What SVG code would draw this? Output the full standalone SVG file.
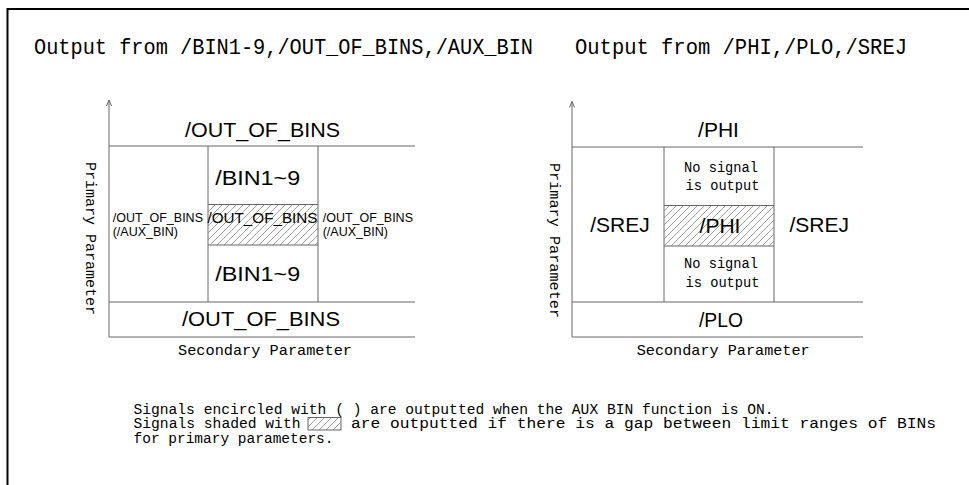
<svg xmlns="http://www.w3.org/2000/svg" width="969" height="485" viewBox="0 0 969 485">
<defs>
<pattern id="hatch" patternUnits="userSpaceOnUse" width="7" height="7">
<path d="M-1,8 L8,-1 M-1,1 L1,-1 M6,8 L8,6" stroke="#777" stroke-width="0.7"/>
</pattern>
</defs>
<style>
.ln{stroke:#666;stroke-width:1;fill:none}
.ar{stroke:#666;stroke-width:1;fill:none}
.big{font-family:"Liberation Sans",Arial,sans-serif;font-size:21px;fill:#000;text-anchor:middle}
.sm{font-family:"Liberation Sans",Arial,sans-serif;font-size:12.5px;fill:#000}
.mono{font-family:"Liberation Mono","DejaVu Sans Mono",monospace;fill:#000}
.title{font-size:22px}
.ax{font-size:15px}
.note{font-size:14px}
.ns{font-size:14px;text-anchor:middle}
</style>
<rect width="969" height="485" fill="#fff"/>
<path d="M7.5,485 V9 H969" stroke="#000" stroke-width="2" fill="none"/>

<g id="titles">
<text class="mono title" x="34" y="54" textLength="499" lengthAdjust="spacingAndGlyphs">Output from /BIN1-9,/OUT_OF_BINS,/AUX_BIN</text>
<text class="mono title" x="575" y="54" textLength="332" lengthAdjust="spacingAndGlyphs">Output from /PHI,/PLO,/SREJ</text>
</g>

<g id="connectors">
<path class="ln" d="M109,100 V337 H415 M109,146 H415 M109,302 H415 M208,146 V302 M318,146 V302 M208,204.5 H318 M208,245 H318"/>
<path class="ar" d="M106.5,106 L109,100 L111.5,106"/>
<path class="ln" d="M572,101.5 V337 H863 M572,147 H863 M572,302 H863 M664,147 V302 M774,147 V302 M664,205.5 H774 M664,246 H774"/>
<path class="ar" d="M569.5,107.5 L572,101.5 L574.5,107.5"/>
</g>

<g id="left-chart">
<rect x="208" y="204.5" width="110" height="40.5" fill="url(#hatch)"/>
<text class="big" x="262.5" y="137" textLength="155" lengthAdjust="spacingAndGlyphs">/OUT_OF_BINS</text>
<text class="big" x="257.7" y="184.5" textLength="85" lengthAdjust="spacingAndGlyphs">/BIN1~9</text>
<text class="big" x="262.5" y="223.3" style="font-size:14px" textLength="110" lengthAdjust="spacingAndGlyphs">/OUT_OF_BINS</text>
<text class="big" x="257.7" y="281" textLength="85" lengthAdjust="spacingAndGlyphs">/BIN1~9</text>
<text class="big" x="261" y="326" textLength="158" lengthAdjust="spacingAndGlyphs">/OUT_OF_BINS</text>
<text class="sm" x="112.7" y="222">/OUT_OF_BINS</text>
<text class="sm" x="112.7" y="235.5">(/AUX_BIN)</text>
<text class="sm" x="322.7" y="222">/OUT_OF_BINS</text>
<text class="sm" x="322.7" y="235.5">(/AUX_BIN)</text>
<text class="mono ax" transform="translate(86,162) rotate(90)" textLength="153" lengthAdjust="spacingAndGlyphs">Primary Parameter</text>
<text class="mono ax" x="178" y="355" textLength="174" lengthAdjust="spacingAndGlyphs">Secondary Parameter</text>
</g>

<g id="right-chart">
<rect x="664" y="205.5" width="110" height="40.5" fill="url(#hatch)"/>
<text class="big" x="718.5" y="137">/PHI</text>
<text class="mono ns" x="721" y="171.7" textLength="74" lengthAdjust="spacingAndGlyphs">No signal</text>
<text class="mono ns" x="722.5" y="190" textLength="74" lengthAdjust="spacingAndGlyphs">is output</text>
<text class="big" x="720" y="232.7">/PHI</text>
<text class="mono ns" x="721" y="268.3" textLength="74" lengthAdjust="spacingAndGlyphs">No signal</text>
<text class="mono ns" x="722.5" y="286.7" textLength="74" lengthAdjust="spacingAndGlyphs">is output</text>
<text class="big" x="620" y="232">/SREJ</text>
<text class="big" x="819.3" y="232">/SREJ</text>
<text class="big" x="721" y="326.5" textLength="44" lengthAdjust="spacingAndGlyphs">/PLO</text>
<text class="mono ax" transform="translate(550,163) rotate(90)" textLength="155" lengthAdjust="spacingAndGlyphs">Primary Parameter</text>
<text class="mono ax" x="636.7" y="355" textLength="173" lengthAdjust="spacingAndGlyphs">Secondary Parameter</text>
</g>

<g id="notes">
<text class="mono note" x="133.5" y="413.5" textLength="640" lengthAdjust="spacingAndGlyphs">Signals encircled with ( ) are outputted when the AUX BIN function is ON.</text>
<text class="mono note" x="133.5" y="428" textLength="167" lengthAdjust="spacingAndGlyphs">Signals shaded with</text>
<rect x="308" y="417.5" width="33" height="12.5" fill="url(#hatch)" stroke="#666" stroke-width="1"/>
<text class="mono note" x="351" y="428" textLength="585" lengthAdjust="spacingAndGlyphs">are outputted if there is a gap between limit ranges of BINs</text>
<text class="mono note" x="133.5" y="442.5" textLength="200" lengthAdjust="spacingAndGlyphs">for primary parameters.</text>
</g>
</svg>
